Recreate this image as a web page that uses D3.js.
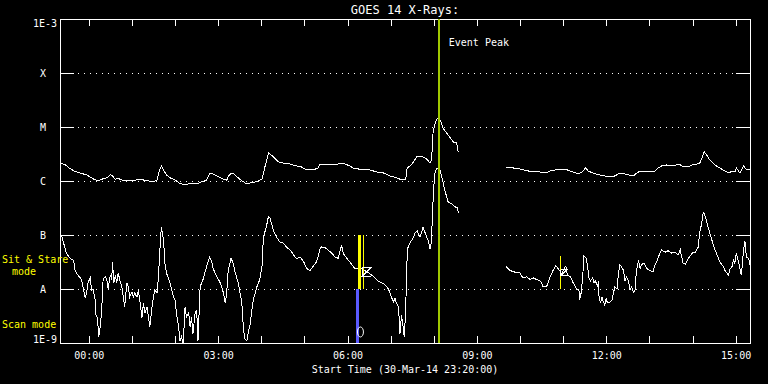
<!DOCTYPE html>
<html>
<head>
<meta charset="utf-8">
<style>
body { margin: 0; background: #000; }
text { font-family: "DejaVu Sans Mono", monospace; fill: #fff; }
.axis path { display: none; }
.axis line { stroke: #fff; }
</style>
</head>
<body>
<div id="chart"></div>
<script src="https://d3js.org/d3.v7.min.js"></script>
<script>

// start of the plot: 30-Mar-14 23:20:00 UT, times below are minutes after it
var startTime = Date.UTC(2014, 2, 30, 23, 20, 0);
var spanMinutes = 960;

// GOES 14 long channel (1-8 A), W/m^2  (null = data gap)
var longMin = [0,7,14,21,28,37,46,53,58,63,67,70,73,77,81,86,93,102,111,121,130,135,138,141,144,148,153,160,167,174,181,190,197,204,208,213,218,227,232,234,238,241,246,253,260,267,274,281,285,290,297,304,311,320,329,336,343,352,359,362,371,380,387,392,397,403,408,415,422,431,441,450,459,468,473,481,483,487,492,496,501,505,510,515,517,519,522,524,527,530,533,538,543,547,552,554,
  587,
  621,631,640,652,663,677,682,689,696,703,710,717,723,728,731,735,742,749,758,765,772,779,786,793,798,802,807,814,821,828,832,837,844,851,858,863,867,874,879,886,890,893,896,900,904,911,918,925,931,935,939,941,946,951,953,955,960];
var longFlux = [2.2e-6,2.0e-6,1.7e-6,1.5e-6,1.4e-6,1.3e-6,1.1e-6,1.0e-6,1.08e-6,1.12e-6,1.2e-6,1.3e-6,1.24e-6,1.08e-6,1.12e-6,1.04e-6,1.0e-6,1.01e-6,1.08e-6,1.01e-6,9.7e-7,1.04e-6,1.5e-6,1.9e-6,1.6e-6,1.3e-6,1.15e-6,1.04e-6,9.0e-7,8.4e-7,9.0e-7,8.8e-7,9.7e-7,1.04e-6,1.35e-6,1.35e-6,1.24e-6,1.08e-6,1.04e-6,1.2e-6,1.4e-6,1.4e-6,1.2e-6,1.01e-6,8.8e-7,9.4e-7,9.7e-7,1.08e-6,1.8e-6,3.3e-6,2.8e-6,2.25e-6,2.15e-6,2.06e-6,1.9e-6,1.82e-6,1.6e-6,1.6e-6,1.74e-6,2.06e-6,1.98e-6,1.98e-6,2.06e-6,2.15e-6,2.06e-6,1.9e-6,1.74e-6,1.67e-6,1.6e-6,1.6e-6,1.47e-6,1.41e-6,1.24e-6,1.15e-6,1.08e-6,1.08e-6,1.74e-6,1.9e-6,2.25e-6,2.8e-6,2.9e-6,2.8e-6,2.55e-6,2.15e-6,2.45e-6,7.7e-6,1.2e-5,1.4e-5,1.5e-5,1.24e-5,9.4e-6,7.7e-6,6.3e-6,5.3e-6,5.05e-6,3.4e-6,
  null,
  1.8e-6,1.74e-6,1.67e-6,1.53e-6,1.5e-6,1.41e-6,1.53e-6,1.6e-6,1.6e-6,1.65e-6,1.53e-6,1.41e-6,1.39e-6,1.53e-6,1.74e-6,1.53e-6,1.39e-6,1.31e-6,1.24e-6,1.2e-6,1.24e-6,1.41e-6,1.35e-6,1.27e-6,1.24e-6,1.39e-6,1.53e-6,1.5e-6,1.53e-6,1.53e-6,1.74e-6,1.9e-6,1.98e-6,1.95e-6,1.98e-6,2.0e-6,1.82e-6,1.82e-6,1.98e-6,2.06e-6,2.13e-6,2.6e-6,3.5e-6,3.0e-6,2.45e-6,1.98e-6,1.74e-6,1.53e-6,1.41e-6,1.53e-6,1.47e-6,1.74e-6,1.41e-6,1.9e-6,1.74e-6,1.65e-6,1.6e-6];

// GOES 14 short channel (0.5-4 A), W/m^2
var shortMin = [2,5,9,14,19,21,25,30,32,35,37,39,42,44,46,49,50,52,54,56,58,60,63,65,67,70,72,73,75,77,79,81,83,86,88,90,93,95,97,100,102,104,107,109,111,114,116,118,121,123,125,128,130,132,135,137,139,141,144,146,148,153,158,160,162,165,167,169,172,173,174,176,179,181,183,185,188,190,191,192,195,199,204,208,211,213,218,223,227,230,232,234,238,241,243,248,253,255,257,260,262,264,267,269,274,278,281,283,287,290,292,297,301,306,311,315,320,325,329,334,339,343,348,352,357,359,362,364,369,373,378,383,387,390,392,394,399,403,408,410,415,420,424,429,434,438,443,448,452,457,461,464,466,468,471,472,473,474,475,477,479,480,481,482,484,487,492,494,497,499,501,503,505,508,510,512,515,517,518,520,522,524,526,529,531,536,540,545,550,553,554,
  587,
  621,626,631,635,640,642,647,649,654,659,663,668,670,672,677,679,682,686,690,693,696,698,700,703,704,706,710,714,719,722,723,725,727,729,732,734,736,738,741,743,745,748,749,750,752,754,756,758,760,761,764,768,770,772,775,777,779,781,784,786,788,791,793,795,798,800,802,805,807,809,812,814,816,821,825,828,831,835,837,842,846,851,856,860,863,865,867,870,872,874,877,879,884,888,890,893,895,897,900,904,909,914,918,923,925,928,930,932,935,937,939,941,944,946,948,951,953,955,958,960];
var shortFlux = [1.0e-7,7.1e-8,4.6e-8,3.7e-8,3.4e-8,2.2e-8,1.8e-8,1.5e-8,1.1e-8,6.8e-9,8.4e-9,1.3e-8,1.6e-8,9.6e-9,1.0e-8,6.3e-9,3.3e-9,3.0e-9,1.3e-9,2.0e-9,4.1e-9,1.5e-8,1.7e-8,1.5e-8,1.0e-8,1.8e-8,1.5e-8,3.2e-8,1.3e-8,1.8e-8,1.3e-8,2.0e-8,1.5e-8,1.1e-8,7.1e-9,4.6e-9,1.3e-8,1.1e-8,7.1e-9,8.8e-9,7.1e-9,8.4e-9,7.1e-9,9.6e-9,6.3e-9,2.9e-9,5.5e-9,3.6e-9,4.6e-9,3.0e-9,2.0e-9,4.6e-9,7.1e-9,9.6e-9,8.4e-9,1.7e-8,5.3e-8,1.4e-7,8.1e-8,3.0e-8,2.0e-8,1.3e-8,7.1e-9,6.3e-9,3.6e-9,2.0e-9,1.1e-9,1.3e-9,0.9e-9,3.6e-9,4.6e-9,3.0e-9,3.6e-9,2.0e-9,3.0e-9,1.5e-9,3.6e-9,4.1e-9,2.3e-9,1.1e-9,1.1e-8,1.5e-8,2.6e-8,3.9e-8,3.2e-8,2.4e-8,1.7e-8,1.3e-8,8.8e-9,5.5e-9,8.8e-9,2.2e-8,3.7e-8,3.0e-8,2.2e-8,1.3e-8,5.5e-9,2.0e-9,1.2e-9,1.1e-9,1.6e-9,2.0e-9,4.1e-9,6.3e-9,1.1e-8,1.5e-8,2.6e-8,9.2e-8,1.4e-7,2.2e-7,2.1e-7,1.2e-7,9.2e-8,7.4e-8,7.1e-8,6.0e-8,5.3e-8,4.3e-8,3.6e-8,3.9e-8,3.2e-8,2.4e-8,2.2e-8,2.6e-8,3.2e-8,3.9e-8,5.8e-8,6.0e-8,5.8e-8,5.3e-8,4.6e-8,3.9e-8,3.7e-8,5.3e-8,6.5e-8,4.6e-8,3.7e-8,3.2e-8,2.6e-8,2.4e-8,2.4e-8,2.4e-8,2.2e-8,2.0e-8,1.8e-8,1.6e-8,1.4e-8,1.3e-8,1.2e-8,1.0e-8,7.1e-9,5.8e-9,6.8e-9,5.5e-9,4.6e-9,2.7e-9,1.5e-9,2.0e-9,3.3e-9,2.2e-9,1.3e-9,2.3e-9,3.3e-9,2.2e-8,5.8e-8,7.1e-8,9.2e-8,1.1e-7,1.2e-7,1.0e-7,9.2e-8,1.1e-7,1.4e-7,1.1e-7,9.2e-8,8.1e-8,5.5e-8,8.1e-8,2.2e-7,7.7e-7,1.5e-6,1.7e-6,1.7e-6,1.6e-6,1.2e-6,6.3e-7,4.1e-7,3.8e-7,3.3e-7,3.2e-7,2.6e-7,
  null,
  2.6e-8,2.2e-8,2.1e-8,2.0e-8,2.0e-8,1.7e-8,1.6e-8,1.7e-8,1.5e-8,1.6e-8,1.5e-8,1.4e-8,1.3e-8,1.1e-8,1.1e-8,1.3e-8,1.7e-8,2.2e-8,2.7e-8,2.4e-8,2.1e-8,1.8e-8,2.2e-8,2.6e-8,2.6e-8,1.8e-8,1.7e-8,1.3e-8,1.0e-8,9.6e-9,6.3e-9,8.4e-9,1.5e-8,4.1e-8,3.7e-8,2.6e-8,1.6e-8,1.4e-8,1.6e-8,1.3e-8,1.4e-8,1.1e-8,1.4e-8,7.1e-9,5.5e-9,7.1e-9,5.8e-9,5.0e-9,6.8e-9,5.8e-9,5.5e-9,6.3e-9,8.4e-9,1.1e-8,1.0e-8,2.0e-8,2.8e-8,2.6e-8,2.2e-8,1.4e-8,1.7e-8,1.4e-8,9.6e-9,1.1e-8,8.8e-9,9.6e-9,2.2e-8,3.4e-8,2.4e-8,2.8e-8,3.0e-8,2.8e-8,2.4e-8,2.2e-8,2.1e-8,2.8e-8,3.4e-8,4.8e-8,5.3e-8,4.8e-8,5.1e-8,4.6e-8,4.8e-8,4.3e-8,5.3e-8,3.9e-8,3.0e-8,2.9e-8,3.2e-8,3.7e-8,4.1e-8,4.6e-8,4.8e-8,6.0e-8,1.1e-7,1.7e-7,2.6e-7,2.4e-7,1.7e-7,1.1e-7,6.5e-8,4.3e-8,3.2e-8,2.6e-8,2.2e-8,2.0e-8,1.8e-8,2.3e-8,2.6e-8,3.4e-8,3.0e-8,4.6e-8,3.2e-8,2.4e-8,1.8e-8,5.3e-8,7.7e-8,3.9e-8,3.7e-8,2.8e-8];

// y axis decades and their labels
var decades = [1e-9, 1e-8, 1e-7, 1e-6, 1e-5, 1e-4, 1e-3];
var decadeLabels = ["1E-9", "A", "B", "C", "M", "X", "1E-3"];

// event markers (minutes after start)
var eventPeakMin = 527;
var sitStareMin = [417, 422, 696];
var sitStareTop = [1e-7, 1e-7, 4e-8];
var sitStareWidth = [3, 1, 1];
var scanMin = 414;

var margin = {top: 19, right: 18, bottom: 41, left: 60},
    width = 768 - margin.left - margin.right,
    height = 384 - margin.top - margin.bottom;

var svg = d3.select("#chart")
  .append("svg")
    .attr("width", 768)
    .attr("height", 384)
    .style("background", "#000")
    .attr("shape-rendering", "crispEdges");

var g = svg.append("g")
    .attr("transform", "translate(" + margin.left + "," + margin.top + ")");

var x = d3.scaleUtc()
    .domain([new Date(startTime), new Date(startTime + spanMinutes * 60000)])
    .range([0, width]);

var y = d3.scaleLog()
    .domain([1e-9, 1e-3])
    .range([height, 0]);

function t(m) { return new Date(startTime + m * 60000); }

// frame
g.append("rect")
    .attr("x", 0).attr("y", 0)
    .attr("width", width).attr("height", height)
    .attr("fill", "none")
    .attr("stroke", "#fff");

// hour ticks top and bottom
var fmt = d3.utcFormat("%H:%M");
g.append("g")
    .attr("class", "axis")
    .attr("transform", "translate(0," + height + ")")
    .call(d3.axisBottom(x).ticks(d3.utcHour.every(1)).tickSize(-7).tickPadding(9)
      .tickFormat(function(d) { return d.getUTCHours() % 3 == 0 ? fmt(d) : ""; }))
    .selectAll("text")
      .style("font-size", "10px")
      .attr("fill", "#fff");

g.append("g")
    .attr("class", "axis")
    .call(d3.axisTop(x).ticks(d3.utcHour.every(1)).tickSize(-7).tickFormat(""));

// decade ticks left and right
g.append("g")
    .attr("class", "axis")
    .call(d3.axisLeft(y).tickValues(decades).tickSize(-14).tickFormat(""));
g.append("g")
    .attr("class", "axis")
    .attr("transform", "translate(" + width + ",0)")
    .call(d3.axisRight(y).tickValues(decades).tickSize(-14).tickFormat(""));

// dotted grid
g.selectAll(".grid")
  .data(decades.slice(1, -1))
  .enter()
  .append("line")
    .attr("x1", 18)
    .attr("x2", width - 14)
    .attr("y1", function(d) { return y(d); })
    .attr("y2", function(d) { return y(d); })
    .attr("stroke", "#fff")
    .attr("stroke-dasharray", "1,5");

// decade labels
g.selectAll(".ylab")
  .data(decades)
  .enter()
  .append("text")
    .attr("x", function(d, i) { return (i == 0 || i == 6) ? -3 : -17; })
    .attr("y", function(d, i) { return y(d) + (i == 0 ? 0 : i == 6 ? 8 : 4); })
    .attr("text-anchor", function(d, i) { return (i == 0 || i == 6) ? "end" : "middle"; })
    .style("font-size", "10px")
    .text(function(d, i) { return decadeLabels[i]; });

// data lines
svg.append("clipPath").attr("id", "clip")
  .append("rect").attr("width", width).attr("height", height);

var line = d3.line()
    .defined(function(d) { return d[1] != null; })
    .x(function(d) { return x(t(d[0])); })
    .y(function(d) { return y(d[1]); });

var plot = g.append("g").attr("clip-path", "url(#clip)");

plot.append("path")
    .datum(longMin.map(function(m, i) { return [m, longFlux[i]]; }))
    .attr("d", line)
    .attr("fill", "none")
    .attr("stroke", "#fff");

plot.append("path")
    .datum(shortMin.map(function(m, i) { return [m, shortFlux[i]]; }))
    .attr("d", line)
    .attr("fill", "none")
    .attr("stroke", "#fff");

// event peak
g.append("line")
    .attr("x1", x(t(eventPeakMin))).attr("x2", x(t(eventPeakMin)))
    .attr("y1", 0).attr("y2", height)
    .attr("stroke", "#a0c800")
    .attr("stroke-width", 2);
g.append("text")
    .attr("x", x(t(eventPeakMin)) + 10)
    .attr("y", 27)
    .style("font-size", "10px")
    .text("Event Peak");

// sit & stare and scan markers
g.selectAll(".ss")
  .data(sitStareMin)
  .enter()
  .append("line")
    .attr("x1", function(d) { return x(t(d)); })
    .attr("x2", function(d) { return x(t(d)); })
    .attr("y1", function(d, i) { return y(sitStareTop[i]); })
    .attr("y2", y(1e-8))
    .attr("stroke", "#ffff00")
    .attr("stroke-width", function(d, i) { return sitStareWidth[i]; });

g.append("line")
    .attr("x1", x(t(scanMin))).attr("x2", x(t(scanMin)))
    .attr("y1", y(1e-8)).attr("y2", height)
    .attr("stroke", "#5a5aff")
    .attr("stroke-width", 3);

// small symbols
g.append("ellipse")
    .attr("cx", x(t(418))).attr("cy", y(1.6e-9))
    .attr("rx", 3).attr("ry", 5)
    .attr("fill", "none").attr("stroke", "#fff")
    .attr("shape-rendering", "auto");

function star(m, f, s) {
  var cx = x(t(m)), cy = y(f);
  g.append("path")
    .attr("d", "M" + (cx - s) + "," + (cy - s) + "H" + (cx + s) + "L" + (cx - s) + "," + (cy + s) +
               "H" + (cx + s) + "M" + (cx - s) + "," + (cy - s) + "V" + (cy + s))
    .attr("fill", "none").attr("stroke", "#fff");
}
star(427, 2.1e-8, 4.5);
star(701, 2.0e-8, 3);

// titles
svg.append("text")
    .attr("x", margin.left + width / 2)
    .attr("y", 14)
    .attr("text-anchor", "middle")
    .style("font-size", "12px")
    .text("GOES 14 X-Rays:");

svg.append("text")
    .attr("x", margin.left + width / 2)
    .attr("y", 373)
    .attr("text-anchor", "middle")
    .style("font-size", "10px")
    .text("Start Time (30-Mar-14 23:20:00)");

// mode labels
svg.append("text").attr("x", 2).attr("y", 263).style("font-size", "10px").style("fill", "#ffff00").text("Sit & Stare");
svg.append("text").attr("x", 24).attr("y", 275).attr("text-anchor", "middle").style("font-size", "10px").style("fill", "#ffff00").text("mode");
svg.append("text").attr("x", 2).attr("y", 328).style("font-size", "10px").style("fill", "#ffff00").text("Scan mode");

</script>
</body>
</html>
